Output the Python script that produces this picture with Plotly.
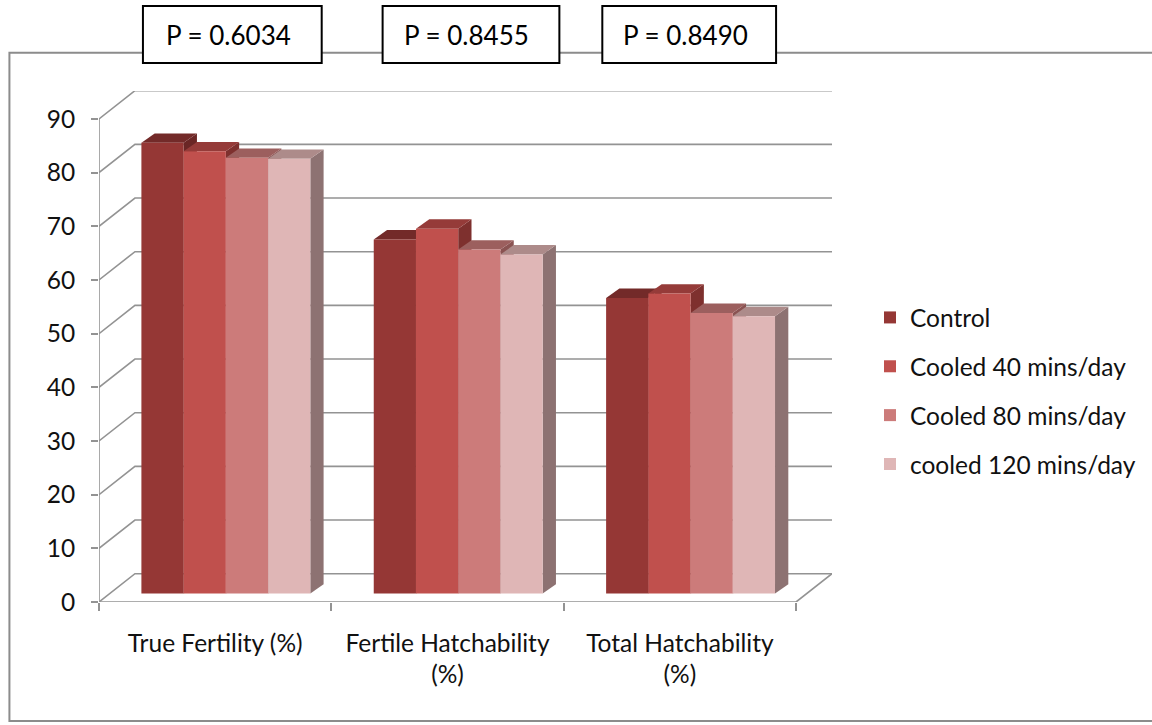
import plotly.graph_objects as go

# ---- data ----
categories = ["True Fertility (%)", "Fertile Hatchability<br>(%)", "Total Hatchability<br>(%)"]
series_names = ["Control", "Cooled 40 mins/day", "Cooled 80 mins/day", "cooled 120 mins/day"]
control = [84.0, 66.0, 55.1]
cooled_40 = [82.4, 68.0, 55.9]
cooled_80 = [81.2, 64.1, 52.3]
cooled_120 = [81.0, 63.2, 51.7]
y_ticks = [0, 10, 20, 30, 40, 50, 60, 70, 80, 90]
p_values = ["P = 0.6034", "P = 0.8455", "P = 0.8490"]

series_values = [control, cooled_40, cooled_80, cooled_120]

# ---- styling ----
front_colors = ["#953735", "#C0504D", "#CC7B7A", "#DFB6B6"]
top_colors = ["#732A29", "#953B39", "#9C5F5E", "#AD8B8A"]
side_colors = ["#6A2625", "#7E302E", "#8A5352", "#8D7272"]
wall_color = "#939393"
font_family = "Lato, 'Open Sans', sans-serif"
text_color = "#111111"
label_size = 24.5

W, H = 1152, 725
ML, MT, PW, PH = 99, 91, 734, 511          # plot area in pixels
UX = 232.67                                 # px per category unit (front plane)
UY = 5.367                                  # px per value unit
WDX, WDY = 36 / UX, 28.3 / UY               # back-wall depth offset
BSX, BSY = 10.7 / UX, 8.4 / UY              # front face of bars sits this far back
BDX, BDY = 13.3 / UX, 9.3 / UY              # depth of each bar
group_width = 0.727
bar_w = group_width / len(series_names)

x_lo = -0.5
x_hi = x_lo + PW / UX
y_hi = PH / UY


def px_to_paper(px, py):
    return (px - ML) / PW, (MT + PH - py) / PH


fig = go.Figure()
shapes = []

# back wall gridlines with their diagonal side-wall segments
for v in y_ticks:
    shapes.append(dict(
        type="path", xref="x", yref="y", layer="below",
        path=f"M {x_lo},{v} L {x_lo + WDX},{v + WDY} L {2.5 + WDX},{v + WDY}",
        line=dict(color=wall_color, width=1.6)))
# floor front and right edges, front value axis
shapes.append(dict(
    type="path", xref="x", yref="y", layer="below",
    path=f"M {x_lo},0 L 2.5,0 L {2.5 + WDX},{WDY}",
    line=dict(color=wall_color, width=1.6)))
shapes.append(dict(
    type="line", xref="x", yref="y", layer="below",
    x0=x_lo, y0=0, x1=x_lo, y1=max(y_ticks),
    line=dict(color=wall_color, width=1.6)))

# top and right faces of each column (drawn beneath the front faces)
for ci in range(len(categories)):
    for si, vals in enumerate(series_values):
        v = vals[ci]
        xl = ci - group_width / 2 + si * bar_w
        xr = xl + bar_w
        shapes.append(dict(
            type="path", xref="x2", yref="y2", layer="below",
            path=(f"M {xr},0 L {xr + BDX},{BDY} L {xr + BDX},{v + BDY} "
                  f"L {xr},{v} Z"),
            fillcolor=side_colors[si], line=dict(width=0)))
        shapes.append(dict(
            type="path", xref="x2", yref="y2", layer="below",
            path=(f"M {xl},{v} L {xr},{v} L {xr + BDX},{v + BDY} "
                  f"L {xl + BDX},{v + BDY} Z"),
            fillcolor=top_colors[si], line=dict(width=0)))

# front faces
for si, (name, vals) in enumerate(zip(series_names, series_values)):
    fig.add_trace(go.Bar(
        x=[0, 1, 2], y=vals, name=name, legendgroup=name,
        width=bar_w, offset=-group_width / 2 + si * bar_w,
        marker=dict(color=front_colors[si], line=dict(width=0)),
        xaxis="x2", yaxis="y2", hoverinfo="y+name"))

# chart-area frame
fx0, fy0 = px_to_paper(9.3, 721)
fx1, fy1 = px_to_paper(1165, 52.7)
shapes.append(dict(type="rect", xref="paper", yref="paper",
                   x0=fx0, y0=fy0, x1=fx1, y1=fy1,
                   line=dict(color="#8C8C8C", width=2)))

# P-value boxes
box_px = [(143, 322), (383, 560), (603, 777)]
annotations = []
for (bx0, bx1), label in zip(box_px, p_values):
    x0, y1 = px_to_paper(bx0, 6)
    x1, y0 = px_to_paper(bx1, 63)
    shapes.append(dict(type="rect", xref="paper", yref="paper",
                       x0=x0, y0=y0, x1=x1, y1=y1,
                       fillcolor="white", line=dict(color="black", width=2)))
    cx, cy = px_to_paper((bx0 + bx1) / 2 - 4, 35)
    annotations.append(dict(
        xref="paper", yref="paper", x=cx, y=cy, text=label, showarrow=False,
        xanchor="center", yanchor="middle",
        font=dict(size=26, color="black", family=font_family)))

lx, ly = px_to_paper(870, 391)

fig.update_layout(
    width=W, height=H,
    margin=dict(l=ML, t=MT, r=W - ML - PW, b=H - MT - PH, pad=0),
    paper_bgcolor="white", plot_bgcolor="rgba(0,0,0,0)",
    font=dict(family=font_family, size=label_size, color=text_color),
    barmode="overlay",
    showlegend=True,
    legend=dict(x=lx, y=ly, xanchor="left", yanchor="middle",
                font=dict(size=label_size, color=text_color),
                tracegroupgap=14, bgcolor="rgba(0,0,0,0)"),
    xaxis=dict(range=[x_lo, x_hi], tickvals=[0, 1, 2], ticktext=categories,
               ticks="", showgrid=False, zeroline=False, showline=False,
               ticklabelstandoff=24,
               minor=dict(tickvals=[-0.5, 0.5, 1.5, 2.5], ticks="outside",
                          ticklen=8, tickwidth=1.6, tickcolor=wall_color,
                          showgrid=False),
               tickfont=dict(size=label_size, color=text_color)),
    yaxis=dict(range=[0, y_hi], tickvals=y_ticks, ticks="outside", ticklen=7,
               tickwidth=1.6, tickcolor=wall_color, showgrid=False,
               zeroline=False, showline=False, ticklabelstandoff=11,
               tickfont=dict(size=label_size, color=text_color)),
    xaxis2=dict(range=[x_lo - BSX, x_hi - BSX], overlaying="x", visible=False),
    yaxis2=dict(range=[-BSY, y_hi - BSY], overlaying="y", visible=False),
    shapes=shapes,
    annotations=annotations,
)

fig.write_html("out.html")
